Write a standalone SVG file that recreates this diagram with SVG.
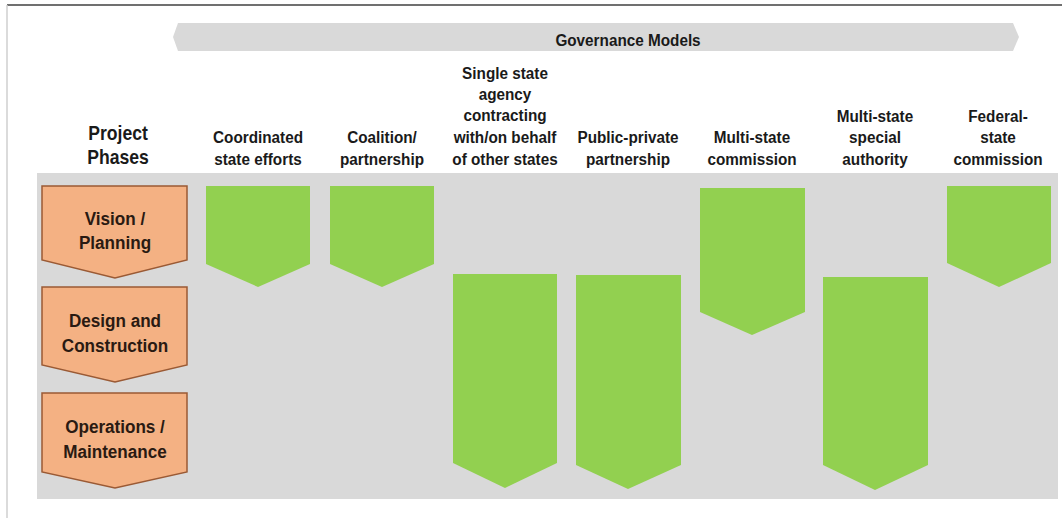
<svg xmlns="http://www.w3.org/2000/svg" width="1062" height="520" viewBox="0 0 1062 520">
<style>
text{font-family:"Liberation Sans",Arial,sans-serif;font-weight:bold;text-anchor:middle}
.hdr{font-size:17px;fill:#1a1a1a}
.big{font-size:20px;fill:#1a1a1a}
.ph{font-size:19px;fill:#2a1a12}
.phase{fill:#f4b183;stroke:#9a5a35;stroke-width:1.5}
.gov{fill:#92d050}
</style>
<rect width="1062" height="520" fill="#ffffff"/>
<line x1="7" y1="5" x2="1062" y2="5" stroke="#707070" stroke-width="2"/>
<line x1="7" y1="5" x2="7" y2="518" stroke="#cfcfcf" stroke-width="1.5"/>
<g id="banner">
<polygon points="173,37 178,23 1013,23 1019,37 1013,51 178,51" fill="#d9d9d9"/>
<text class="hdr" transform="translate(628,46) scale(0.9,1)">Governance Models</text>
</g>
<rect id="panel" x="37" y="173" width="1021" height="326" fill="#d9d9d9"/>
<g id="header-phases">
<text class="big" transform="translate(118,140) scale(0.88,1)">Project</text>
<text class="big" transform="translate(118,164) scale(0.88,1)">Phases</text>
</g>
<g id="phase-vision">
<polygon class="phase" points="42,186 187,186 187,260 115,278 42,260"/>
<text class="ph" transform="translate(115,225) scale(0.9,1)">Vision /</text>
<text class="ph" transform="translate(115,249) scale(0.9,1)">Planning</text>
</g>
<g id="phase-design">
<polygon class="phase" points="42,287 187,287 187,365 115,382 42,365"/>
<text class="ph" transform="translate(115,327) scale(0.9,1)">Design and</text>
<text class="ph" transform="translate(115,352) scale(0.9,1)">Construction</text>
</g>
<g id="phase-ops">
<polygon class="phase" points="42,393 187,393 187,472 115,488 42,472"/>
<text class="ph" transform="translate(115,433) scale(0.9,1)">Operations /</text>
<text class="ph" transform="translate(115,458) scale(0.9,1)">Maintenance</text>
</g>
<g id="model-coordinated">
<text class="hdr" transform="translate(258,143) scale(0.9,1)">Coordinated</text>
<text class="hdr" transform="translate(258,165) scale(0.9,1)">state efforts</text>
<polygon class="gov" points="206,186 310,186 310,264 258,287 206,264"/>
</g>
<g id="model-coalition">
<text class="hdr" transform="translate(382,143) scale(0.9,1)">Coalition/</text>
<text class="hdr" transform="translate(382,165) scale(0.9,1)">partnership</text>
<polygon class="gov" points="330,186 434,186 434,264 382,287 330,264"/>
</g>
<g id="model-single">
<text class="hdr" transform="translate(505,79) scale(0.9,1)">Single state</text>
<text class="hdr" transform="translate(505,100) scale(0.9,1)">agency</text>
<text class="hdr" transform="translate(505,121) scale(0.9,1)">contracting</text>
<text class="hdr" transform="translate(505,143) scale(0.9,1)">with/on behalf</text>
<text class="hdr" transform="translate(505,165) scale(0.9,1)">of other states</text>
<polygon class="gov" points="453,274 557,274 557,463 505,488 453,463"/>
</g>
<g id="model-ppp">
<text class="hdr" transform="translate(628,143) scale(0.9,1)">Public-private</text>
<text class="hdr" transform="translate(628,165) scale(0.9,1)">partnership</text>
<polygon class="gov" points="576,275 681,275 681,465 628,489 576,465"/>
</g>
<g id="model-msc">
<text class="hdr" transform="translate(752,143) scale(0.9,1)">Multi-state</text>
<text class="hdr" transform="translate(752,165) scale(0.9,1)">commission</text>
<polygon class="gov" points="700,188 805,188 805,312 752,335 700,312"/>
</g>
<g id="model-msa">
<text class="hdr" transform="translate(875,122) scale(0.9,1)">Multi-state</text>
<text class="hdr" transform="translate(875,143) scale(0.9,1)">special</text>
<text class="hdr" transform="translate(875,165) scale(0.9,1)">authority</text>
<polygon class="gov" points="823,277 928,277 928,465 875,490 823,465"/>
</g>
<g id="model-federal">
<text class="hdr" transform="translate(998,122) scale(0.9,1)">Federal-</text>
<text class="hdr" transform="translate(998,143) scale(0.9,1)">state</text>
<text class="hdr" transform="translate(998,165) scale(0.9,1)">commission</text>
<polygon class="gov" points="947,186 1051,186 1051,263 999,287 947,263"/>
</g>
<g id="connectors"/>
</svg>
